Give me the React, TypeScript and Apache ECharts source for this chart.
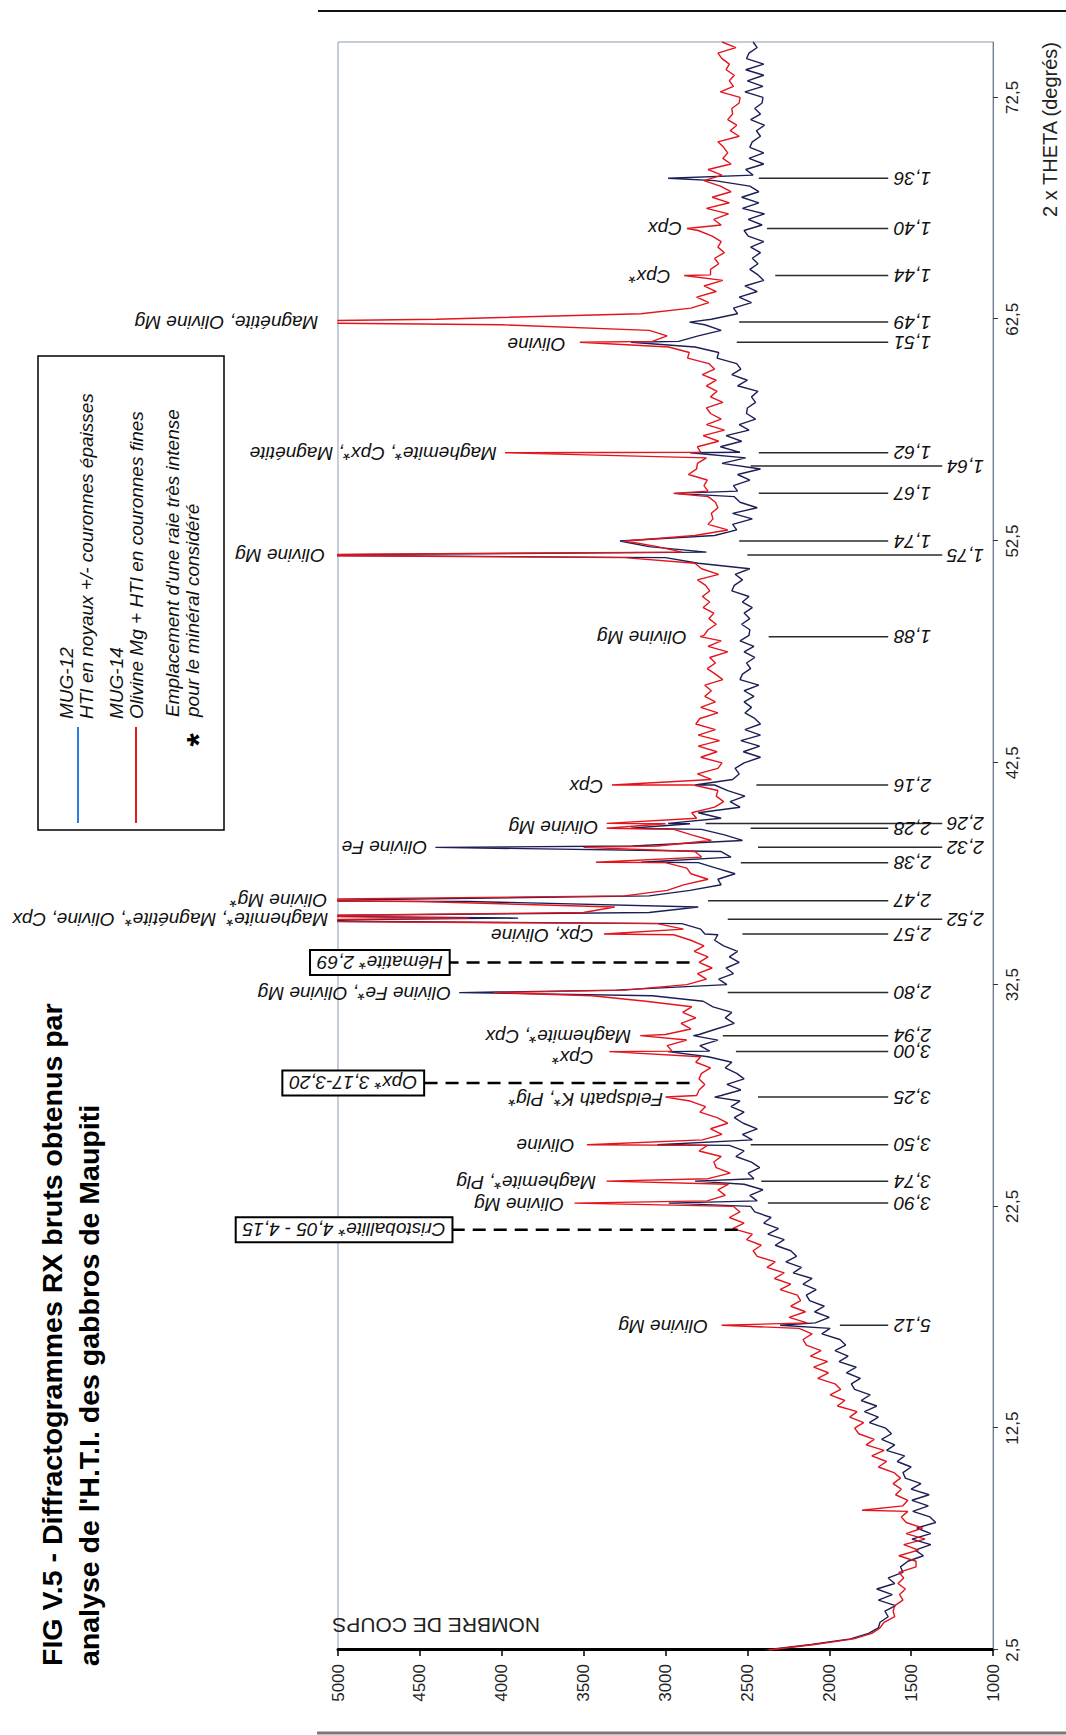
import React, { useEffect, useRef } from "react";
import * as echarts from "echarts";

// Chart drawn in its natural orientation (2θ horizontal), then the whole
// canvas is turned a quarter turn, as in the reference figure.
const W = 1735;
const H = 1066;
const FONT = "'Liberation Sans', Arial, sans-serif";

// ---------- data ----------
const THETA_START = 2.5;
const THETA_STEP = 0.25;

// MUG-12 (blue / navy) counts on the 0.25° grid from 2.5° to 75°
const MUG12_COUNTS: number[] = [
  2390, 2110, 1870, 1760, 1700, 1690, 1640, 1660,
  1595, 1700, 1615, 1710, 1600, 1640, 1550, 1565,
  1520, 1425, 1475, 1380, 1495, 1380, 1465, 1350,
  1385, 1490, 1395, 1495, 1390, 1500, 1440, 1535,
  1550, 1500, 1585, 1540, 1650, 1600, 1680, 1620,
  1655, 1755, 1700, 1785, 1710, 1805, 1750, 1845,
  1865, 1810, 1895, 1835, 1940, 1885, 1965, 1900,
  1935, 2045, 1995, 2085, 2000, 2090, 2030, 2120,
  2140, 2080, 2160, 2105, 2220, 2170, 2265, 2200,
  2235, 2330, 2275, 2375, 2310, 2400, 2355, 2455,
  2480, 2440, 2485, 2405, 2520, 2460, 2495, 2425,
  2475, 2570, 2520, 2610, 2470, 2530, 2440, 2525,
  2580, 2520, 2600, 2545, 2660, 2540, 2625, 2520,
  2565, 2635, 2595, 2740, 2730, 2790, 2680, 2795,
  2690, 2580, 2635, 2595, 2710, 2770, 3080, 3300,
  2625, 2675, 2585, 2630, 2550, 2610, 2560, 2645,
  2700, 2680, 2785, 2900, 3900, 3100, 2800, 4200,
  3100, 2850, 2660, 2680, 2575, 2690, 2800, 2600,
  2660, 3200, 2530, 2640, 2780, 2850, 2660, 2800,
  2545, 2605, 2515, 2620, 2700, 2590, 2550, 2575,
  2520, 2420, 2525, 2425, 2540, 2420, 2515, 2420,
  2455, 2515, 2475, 2520, 2460, 2520, 2430, 2545,
  2530, 2480, 2505, 2455, 2520, 2460, 2545, 2490,
  2485, 2535, 2485, 2520, 2470, 2530, 2490, 2595,
  2580, 2530, 2575, 2485, 2800, 3000, 2750, 3100,
  3278, 2700, 2565, 2590, 2470, 2590, 2440, 2545,
  2580, 2560, 2585, 2485, 2560, 2420, 2655, 2510,
  2545, 2665, 2535, 2630, 2490, 2550, 2450, 2505,
  2500, 2450, 2475, 2435, 2560, 2500, 2595, 2540,
  2565, 2685, 2675, 2820, 2920, 2800, 2660, 2760,
  2720, 2560, 2585, 2475, 2550, 2440, 2515, 2400,
  2435, 2485, 2435, 2470, 2420, 2480, 2400, 2495,
  2520, 2410, 2495, 2395, 2530, 2430, 2535, 2430,
  2485, 2700, 2465, 2510, 2400, 2490, 2400, 2485,
  2470, 2420, 2445, 2395, 2480, 2420, 2455, 2410,
  2405, 2515, 2405, 2500, 2400, 2510, 2400, 2505,
  2490, 2440, 2465,
];

// MUG-14 (red) counts on the same grid
const MUG14_COUNTS: number[] = [
  2370, 2090, 1850, 1740, 1690, 1665, 1600, 1610,
  1600, 1550, 1570, 1535, 1580, 1545, 1575, 1470,
  1470, 1575, 1455, 1545, 1415, 1530, 1430, 1530,
  1560, 1520, 1550, 1520, 1595, 1560, 1610, 1565,
  1605, 1700, 1650, 1740, 1665, 1775, 1725, 1820,
  1845, 1790, 1875, 1830, 1950, 1905, 1995, 1930,
  1965, 2070, 2005, 2095, 2010, 2115, 2050, 2140,
  2160, 2105, 2185, 2135, 2245, 2145, 2235, 2175,
  2195, 2300, 2235, 2335, 2275, 2380, 2330, 2440,
  2465, 2415, 2505, 2470, 2590, 2520, 2610, 2545,
  2585, 2745, 2635, 2680, 2615, 2740, 2605, 2690,
  2705, 2660, 2795, 2745, 2775, 2655, 2725, 2620,
  2685, 2790, 2755, 2850, 2810, 2795, 2760, 2795,
  2780, 2725, 2815, 2785, 2960, 2990, 2870, 3000,
  2845, 2905, 2815, 2895, 2840, 3120, 3450, 3250,
  2870, 2750, 2805, 2715, 2795, 2740, 2825, 2765,
  2845, 2950, 2890, 3050, 4200, 3500, 3310, 4500,
  3250, 2990, 2890, 2740, 2845, 2870, 3000, 2780,
  2820, 3050, 2720, 2840, 2950, 3000, 2810, 2840,
  2700, 2645, 2690, 2680, 2830, 2720, 2805, 2680,
  2655, 2785, 2685, 2800, 2670, 2800, 2695, 2815,
  2790, 2680, 2785, 2695, 2760, 2720, 2760, 2650,
  2695, 2745, 2695, 2730, 2620, 2740, 2660, 2765,
  2740, 2690, 2735, 2705, 2770, 2730, 2775, 2730,
  2755, 2805, 2675, 2780, 2820, 3250, 2900, 3050,
  3245, 2820, 2620, 2740, 2710, 2720, 2680, 2695,
  2740, 2740, 2765, 2745, 2860, 2810, 2805, 2750,
  2785, 2805, 2675, 2770, 2640, 2750, 2660, 2725,
  2750, 2650, 2725, 2685, 2750, 2690, 2775, 2700,
  2735, 2865, 2855, 2980, 3080, 2990, 3100, 4000,
  4400, 3150, 2845, 2735, 2810, 2690, 2765, 2650,
  2725, 2725, 2675, 2700, 2640, 2680, 2660, 2715,
  2800, 2660, 2705, 2615, 2750, 2610, 2715, 2600,
  2665, 2765, 2655, 2740, 2600, 2650, 2620, 2645,
  2680, 2550, 2605, 2565, 2620, 2590, 2595, 2550,
  2545, 2665, 2585, 2610, 2580, 2630, 2610, 2655,
  2680, 2570, 2655,
];

// Diffraction peaks [2θ, counts]
const MUG12_PEAKS: [number, number][] = [
  [17.14, 2300], [22.65, 2980], [23.64, 2820], [25.28, 3050], [27.43, 2700],
  [29.48, 2984], [30.2, 2830], [32.14, 4260], [34.78, 2760], [35.38, 5500],
  [35.6, 5300], [36.27, 5400], [38.02, 3150], [38.69, 4405], [39.55, 3212],
  [39.77, 2984], [41.5, 2820], [51.87, 5400], [54.65, 2940], [56.48, 2850],
  [61.46, 3210], [62.37, 2853], [68.86, 2984],
];
const MUG14_PEAKS: [number, number][] = [
  [8.8, 1800], [17.14, 2657], [22.65, 3556], [23.64, 3360], [25.28, 3480],
  [27.43, 3000], [29.48, 3343], [30.2, 3154], [32.14, 4050], [34.78, 3376],
  [35.38, 5800], [35.6, 5400], [36.3, 5800], [38.02, 3425], [38.69, 3500],
  [39.55, 3359], [39.77, 3359], [41.5, 3327], [48.19, 2788], [51.87, 5600],
  [54.65, 2951], [56.48, 3980], [61.46, 3523], [62.37, 5800], [64.47, 2886],
  [66.59, 2869],
];

// d-spacing markers: [2θ, label, counts where the marker starts]
const D_SPACINGS: [number, string, number][] = [
  [68.86, "1,36", 2430], [66.59, "1,40", 2380], [64.47, "1,44", 2330],
  [62.37, "1,49", 2550], [61.46, "1,51", 2565], [56.48, "1,62", 2430],
  [55.88, "1,64", 2480], [54.65, "1,67", 2430], [52.5, "1,74", 2550],
  [51.87, "1,75", 2500], [48.19, "1,88", 2370], [41.5, "2,16", 2445],
  [39.77, "2,26", 2755], [39.55, "2,28", 2480], [38.69, "2,32", 2435],
  [38.0, "2,38", 2540], [36.28, "2,47", 2740], [35.45, "2,52", 2620],
  [34.78, "2,57", 2530], [32.14, "2,80", 2620], [30.2, "2,94", 2650],
  [29.48, "3,00", 2570], [27.43, "3,25", 2435], [25.28, "3,50", 2480],
  [23.64, "3,74", 2415], [22.65, "3,90", 2375], [17.14, "5,12", 1935],
];
const STAGGERED = ["1,64", "1,75", "2,26", "2,32", "2,52"];
const D_LINE_END = 1640;
const D_LINE_END_STAGGERED = 1310;
const D_LABEL_AT = 1605;
const D_LABEL_AT_STAGGERED = 1282;

// mineral names: [2θ, counts where the text starts, text]
const MINERALS: [number, number, string][] = [
  [66.59, 2900, "Cpx"], [64.42, 2970, "Cpx*"],
  [62.37, 5120, "Magnétite, Olivine Mg"], [61.35, 3610, "Olivine"],
  [56.45, 4030, "Maghemite*, Cpx*, Magnétite"], [51.87, 5080, "Olivine Mg"],
  [48.15, 2870, "Olivine Mg"], [41.45, 3380, "Cpx"], [39.6, 3410, "Olivine Mg"],
  [38.69, 4455, "Olivine Fe"], [36.28, 5065, "Olivine Mg*"],
  [35.45, 5060, "Maghemite*, Magnétite*, Olivine, Cpx"],
  [34.72, 3440, "Cpx, Olivine"], [32.1, 4310, "Olivine Fe*, Olivine Mg"],
  [30.15, 3210, "Maghemite*, Cpx"], [29.22, 3440, "Cpx*"],
  [27.33, 3015, "Feldspath K*, Plg*"], [25.25, 3555, "Olivine"],
  [23.6, 3425, "Maghemite*, Plg"], [22.6, 3620, "Olivine Mg"],
  [17.1, 2740, "Olivine Mg"],
];

// boxed zones: [2θ, text, dashed line from, dashed line to / box start]
const MARKED_ZONES: [number, string, number, number][] = [
  [33.5, "Hématite* 2,69", 2853, 4324],
  [28.07, "Opx* 3,17-3,20", 2853, 4480],
  [21.45, "Cristoballite* 4,05 - 4,15", 2559, 4307],
];

const X_TICKS = [2.5, 12.5, 22.5, 32.5, 42.5, 52.5, 62.5, 72.5];

const TITLE_LINES = [
  "FIG V.5 - Diffractogrammes RX bruts obtenus par",
  "analyse de l'H.T.I. des gabbros de Maupiti",
];
const LEGEND_LINES = [
  "MUG-12",
  "HTI en noyaux +/- couronnes épaisses",
  "MUG-14",
  "Olivine Mg + HTI en couronnes fines",
  "Emplacement d'une raie très intense",
  "pour le minéral considéré",
];

function buildSeries(counts: number[], peaks: [number, number][]) {
  const pts: number[][] = counts.map((v, i) => [THETA_START + i * THETA_STEP, v]);
  peaks.forEach((p) => pts.push([p[0], p[1]]));
  pts.sort((a, b) => a[0] - b[0]);
  return pts;
}

const fmtComma = (v: number) => v.toFixed(1).replace(".", ",");

export default function App() {
  const ref = useRef<HTMLDivElement>(null);

  useEffect(() => {
    const el = ref.current;
    if (!el) return;
    const chart = echarts.init(el, undefined, { renderer: "svg", width: W, height: H });

    chart.setOption({
      animation: false,
      backgroundColor: "#ffffff",
      grid: {
        left: 85,
        right: 42,
        top: 338,
        bottom: 73,
        show: true,
        borderColor: "#8b9bb3",
        borderWidth: 1,
        backgroundColor: "transparent",
      },
      xAxis: {
        type: "value",
        min: 2.5,
        max: 75,
        splitLine: { show: false },
        axisLine: { show: true, lineStyle: { color: "#6f7d95", width: 1 } },
        axisTick: { show: true, length: 5, customValues: X_TICKS, lineStyle: { color: "#333", width: 1 } },
        axisLabel: {
          customValues: X_TICKS,
          formatter: (v: number) => fmtComma(v),
          fontSize: 17,
          fontFamily: FONT,
          color: "#222",
          margin: 11,
        },
      },
      yAxis: {
        type: "value",
        min: 1000,
        max: 5000,
        interval: 500,
        splitLine: { show: false },
        axisLine: { show: true, lineStyle: { color: "#000", width: 3 } },
        axisTick: { show: true, length: 6, lineStyle: { color: "#000", width: 1.5 } },
        axisLabel: {
          formatter: (v: number) => String(Math.round(v)),
          fontSize: 17,
          fontFamily: FONT,
          color: "#222",
          margin: 14,
        },
      },
      series: [
        {
          type: "line",
          name: "MUG-12",
          data: buildSeries(MUG12_COUNTS, MUG12_PEAKS),
          symbol: "none",
          showSymbol: false,
          clip: true,
          lineStyle: { color: "#1b1f55", width: 1.4 },
          z: 2,
        },
        {
          type: "line",
          name: "MUG-14",
          data: buildSeries(MUG14_COUNTS, MUG14_PEAKS),
          symbol: "none",
          showSymbol: false,
          clip: true,
          lineStyle: { color: "#e3141c", width: 1.4 },
          z: 3,
        },
      ],
    });

    const p = (t: number, c: number) =>
      chart.convertToPixel({ gridIndex: 0 }, [t, c]) as unknown as number[];

    const g: any[] = [];
    const txt = (x: number, y: number, text: string, o: any = {}) => ({
      type: "text",
      x,
      y,
      rotation: o.rotation || 0,
      z: 20,
      style: {
        text,
        fill: o.fill || "#111",
        fontSize: o.fontSize || 19,
        fontFamily: FONT,
        fontStyle: o.fontStyle || "normal",
        fontWeight: o.fontWeight || "normal",
        align: o.align || "left",
        verticalAlign: o.verticalAlign || "middle",
        ...(o.box
          ? { backgroundColor: "#fff", borderColor: "#000", borderWidth: 2, padding: [2, 6] }
          : {}),
      },
    });

    // d-spacing markers
    D_SPACINGS.forEach(([t, label, top]) => {
      const st = STAGGERED.indexOf(label) >= 0;
      const a = p(t, top);
      const b = p(t, st ? D_LINE_END_STAGGERED : D_LINE_END);
      g.push({
        type: "line",
        z: 15,
        shape: { x1: a[0], y1: a[1], x2: b[0], y2: b[1] },
        style: { stroke: "#2a2a2a", lineWidth: 1.5 },
      });
      const l = p(t, st ? D_LABEL_AT_STAGGERED : D_LABEL_AT);
      g.push(txt(l[0], l[1], label, { rotation: Math.PI / 2, align: "right", fontStyle: "italic", fontSize: 19 }));
    });

    // mineral names
    MINERALS.forEach(([t, c, text]) => {
      const a = p(t, c);
      g.push(txt(a[0], a[1], text, { rotation: Math.PI / 2, align: "left", fontStyle: "italic", fontSize: 19 }));
    });

    // boxed zones with dashed markers
    MARKED_ZONES.forEach(([t, text, from, to]) => {
      const a = p(t, from);
      const b = p(t, to);
      g.push({
        type: "line",
        z: 15,
        shape: { x1: a[0], y1: a[1], x2: b[0], y2: b[1] },
        style: { stroke: "#000", lineWidth: 2.5, lineDash: [13, 8] },
      });
      g.push(txt(b[0], b[1], text, { rotation: Math.PI / 2, align: "left", fontStyle: "italic", fontSize: 19, box: true }));
    });

    // axis names
    g.push(txt(110, 540, "NOMBRE DE COUPS", { rotation: Math.PI / 2, align: "left", fontSize: 21, fill: "#222" }));
    g.push(txt(1693, 1050, "2 x THETA (degrés)", { align: "right", fontSize: 20, fill: "#222" }));

    // title
    g.push(txt(69, 52, TITLE_LINES[0], { fontSize: 28.5, fontWeight: "bold", fill: "#000" }));
    g.push(txt(69, 89, TITLE_LINES[1], { fontSize: 28.5, fontWeight: "bold", fill: "#000" }));

    // legend box
    g.push({
      type: "rect",
      z: 18,
      shape: { x: 905, y: 38, width: 474, height: 186 },
      style: { fill: "#fff", stroke: "#000", lineWidth: 1.5 },
    });
    g.push({ type: "line", z: 19, shape: { x1: 912, y1: 78, x2: 1008, y2: 78 }, style: { stroke: "#2b7de9", lineWidth: 2 } });
    g.push({ type: "line", z: 19, shape: { x1: 912, y1: 136, x2: 1008, y2: 136 }, style: { stroke: "#e01b1b", lineWidth: 2 } });
    const legY = [66, 86, 116, 136, 172, 192];
    LEGEND_LINES.forEach((s, i) => {
      g.push(txt(i < 4 ? 1016 : 1018, legY[i], s, { fontStyle: "italic", fontSize: 19, fill: "#111" }));
    });
    g.push(txt(995, 198, "*", { align: "center", fontSize: 34, fontWeight: "bold", fill: "#000" }));

    // page rules
    g.push({ type: "line", z: 5, shape: { x1: 1724, y1: 318, x2: 1724, y2: 1066 }, style: { stroke: "#111", lineWidth: 2 } });
    g.push({ type: "line", z: 5, shape: { x1: 2, y1: 317, x2: 2, y2: 1066 }, style: { stroke: "#7a7a7a", lineWidth: 3 } });

    chart.setOption({ graphic: g });

    return () => {
      chart.dispose();
    };
  }, []);

  return (
    <div
      style={{
        position: "fixed",
        left: 0,
        top: 0,
        width: 1066,
        height: 1735,
        overflow: "hidden",
        background: "#ffffff",
      }}
    >
      <div
        ref={ref}
        style={{
          position: "absolute",
          left: 0,
          top: 0,
          width: W,
          height: H,
          transformOrigin: "0 0",
          transform: `translate(0px, ${W}px) rotate(-90deg)`,
        }}
      />
    </div>
  );
}
